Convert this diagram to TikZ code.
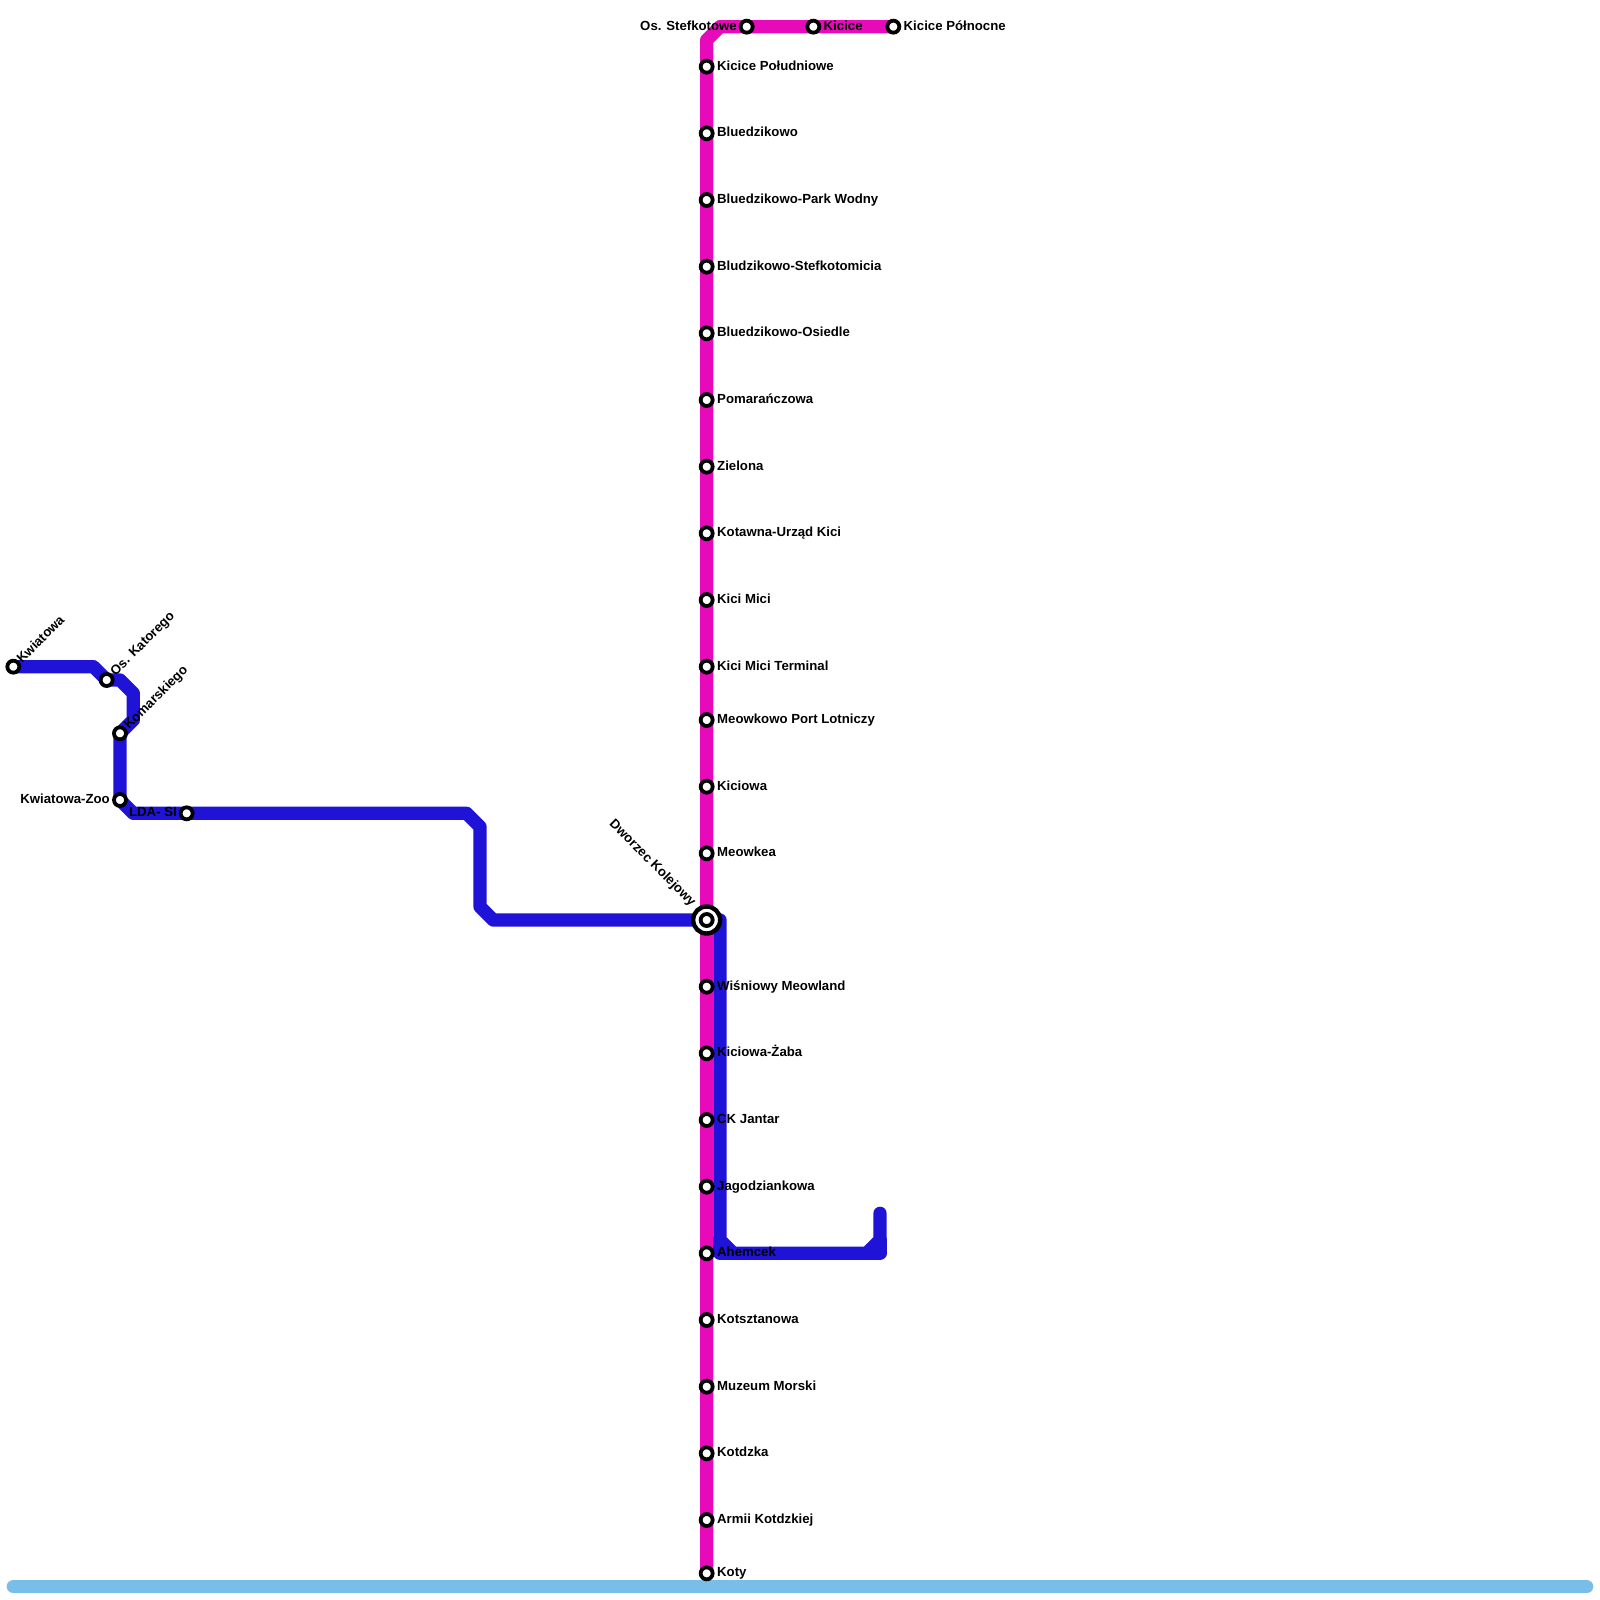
\documentclass[tikz,border=0pt]{standalone}
\usepackage{fontspec}
\setmainfont{Liberation Sans}
\definecolor{lmag}{HTML}{E70ABB}
\definecolor{lblue}{HTML}{2013D8}
\definecolor{lsky}{HTML}{79BDE9}
\tikzset{
  linem/.style={draw=lmag,line width=13.3pt,line join=round,line cap=round},
  lineb/.style={draw=lblue,line width=13.3pt,line join=round,line cap=round},
  lines/.style={draw=lsky,line width=13.3pt,line cap=round},
  stn/.style={circle,draw=black,fill=white,line width=3.8pt,minimum size=12pt,inner sep=0pt},
  lbl/.style={font=\bfseries\fontsize{13.2}{15}\selectfont,inner sep=0pt,text=black},
  lblr/.style={lbl,anchor=base west},
  lbll/.style={lbl,anchor=base east},
  lblu/.style={lbl,anchor=base west,rotate=45},
}
\begin{document}
\begin{tikzpicture}[x=1pt,y=-1pt]
\useasboundingbox (0,0) rectangle (1600,1600);
% sky line
\coordinate (skyA) at (13.33,1586.67);
\coordinate (skyB) at (1586.67,1586.67);
\draw[lines] (skyA) -- (skyB);
% stations on the vertical line
\foreach \n/\y in {
 a/66.67, b/133.33, c/200, d/266.67, e/333.33, f/400, g/466.67, h/533.33, i/600, j/666.67,
 k/720, l/786.67, m/853.33, o/986.67, p/1053.33, q/1120, r/1186.67, s/1253.33, t/1320,
 u/1386.67, v/1453.33, w/1520, x/1573.33}{
  \coordinate (c\n) at (706.67,\y);
  \coordinate (cl\n) at (717,\y+3.4);
}
\coordinate (topbend1) at (706.67,40);
\coordinate (topbend2) at (720,26.67);
\coordinate (cst) at (746.67,26.67);
\coordinate (cki) at (813.33,26.67);
\coordinate (ckp) at (893.33,26.67);
\coordinate (chub) at (706.67,920);
% magenta line
\draw[linem] (cx) -- (chub) -- (topbend1) -- (topbend2) -- (ckp);
% blue line
\coordinate (ckw) at (13.33,666.67);
\coordinate (cos) at (106.67,680);
\coordinate (cko) at (120,733.33);
\coordinate (czo) at (120,800);
\coordinate (clda) at (186.67,813.33);
\draw[lineb] (ckw) -- (93.33,666.67) -- (cos) -- (120,680) -- (133.33,693.33) -- (133.33,720) -- (cko)
  -- (czo) -- (133.33,813.33) -- (clda) -- (466.67,813.33) -- (480,826.67) -- (480,906.67)
  -- (493.33,920) -- (chub);
\coordinate (be1) at (720,920);
\coordinate (be2) at (720,1240);
\coordinate (be3) at (720,1253.33);
\coordinate (be4) at (880,1253.33);
\coordinate (be5) at (880,1213.33);
\draw[lineb] (chub) -- (be1) -- (be2) -- (733.33,1253.33) -- (866.67,1253.33) -- (880,1240) -- (be5);
\draw[lineb] (be2) -- (be3) -- (be4) -- (880,1240);
% station markers and labels
\foreach \n/\t in {
 a/Kicice Południowe, b/Bluedzikowo, c/Bluedzikowo-Park Wodny,
 d/Bludzikowo-Stefkotomicia, e/Bluedzikowo-Osiedle, f/Pomarańczowa,
 g/Zielona, h/Kotawna-Urząd Kici, i/Kici Mici, j/Kici Mici Terminal,
 k/Meowkowo Port Lotniczy, l/Kiciowa, m/Meowkea,
 o/Wiśniowy Meowland, p/Kiciowa-Żaba, q/CK Jantar, r/Jagodziankowa,
 s/Ahemcek, t/Kotsztanowa, u/Muzeum Morski, v/Kotdzka,
 w/Armii Kotdzkiej, x/Koty}{
  \node[stn] (st\n) at (c\n) {};
  \node[lblr] (lb\n) at (cl\n) {\t};
}
\node[stn] (stst) at (cst) {};
\node[stn] (stki) at (cki) {};
\node[stn] (stkp) at (ckp) {};
\node[lbll] (lbst) at (737,30.4) {Os. Stefkotowe};
\node[lblr] (lbki) at (823.5,30.4) {Kicice};
\node[lblr] (lbkp) at (903.5,30.4) {Kicice Północne};
\node[stn] (stkw) at (ckw) {};
\node[stn] (stos) at (cos) {};
\node[stn] (stko) at (cko) {};
\node[stn] (stzo) at (czo) {};
\node[stn] (stlda) at (clda) {};
\node[lblu] (lbkw) at (22,664) {Kwiatowa};
\node[lblu] (lbos) at (115.5,676.5) {Os. Katorego};
\node[lblu] (lbko) at (129,730) {Komarskiego};
\node[lbll] (lbzo) at (110,803.4) {Kwiatowa-Zoo};
\node[lbll] (lblda) at (177,816.7) {LDA- SI};
% interchange
\node[circle,draw=black,fill=white,line width=4.4pt,minimum size=27pt,inner sep=0pt] (hubo) at (chub) {};
\node[stn] (hubi) at (chub) {};
\node[lbl,anchor=base east,rotate=-45] (lbhub) at (691,907) {Dworzec Kolejowy};
\end{tikzpicture}
\end{document}
